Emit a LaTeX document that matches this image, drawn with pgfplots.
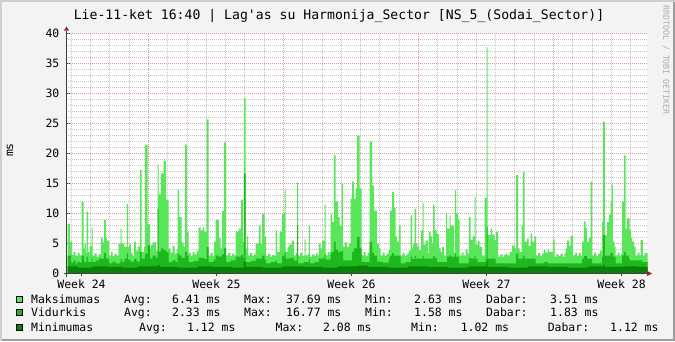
\documentclass[border=0pt]{standalone}
\usepackage{pgfplots}
\pgfplotsset{compat=1.18}
\usepackage{fontspec}
\setmainfont{DejaVu Sans Mono}
\definecolor{bgc}{HTML}{F3F3F3}
\definecolor{shadea}{HTML}{CFCFCF}
\definecolor{shadeb}{HTML}{9E9E9E}
\definecolor{maxc}{HTML}{5AE65A}
\definecolor{avgc}{HTML}{1CB81C}
\definecolor{minc}{HTML}{0B800B}
\definecolor{gridc}{HTML}{C4C4C4}
\definecolor{mgridc}{HTML}{DE9A9A}
\definecolor{axisc}{HTML}{404040}
\definecolor{arrowc}{HTML}{9A2424}
\definecolor{tagc}{HTML}{ABABAB}
\newcommand{\lf}{\fontsize{11.5}{13}\selectfont}
\newcommand{\lgd}[3]{\node[anchor=base west, inner sep=0pt, font=\lf] at (#1,#2) {#3};}
\tikzset{mg/.style={mgridc, dash pattern=on 1bp off 1bp, line width=1bp},
         ng/.style={gridc, dash pattern=on 1bp off 1bp, line width=1bp}}
\begin{document}
\begin{tikzpicture}[x=1bp,y=1bp]
\useasboundingbox (0,0) rectangle (675,341);
\fill[bgc] (0,0) rectangle (675,341);
\fill[shadea] (0,0) rectangle (2,341);
\fill[shadea] (0,339) rectangle (675,341);
\fill[shadeb] (673,0) rectangle (675,339);
\fill[shadeb] (2,0) rectangle (675,2);
\fill[white] (67,67.5) rectangle (647,308);
\begin{axis}[
  at={(67.5bp,67.5bp)}, anchor=south west, scale only axis,
  width=580bp, height=240bp,
  xmin=0, xmax=580, ymin=0, ymax=40,
  axis line style={draw=none},
  tick pos=left,
  ytick={0,5,...,40},
  xtick={14,149,284,419,554},
  xticklabels={Week 24,Week 25,Week 26,Week 27,Week 28},
  major tick length=4bp, tick align=center,
  tick style={axisc, line width=1bp},
  ticklabel style={font=\lf},
  /pgf/number format/assume math mode=true,
  yticklabel style={anchor=east, inner sep=0pt, xshift=-6bp},
  xticklabel style={anchor=base, inner sep=0pt, yshift=-12.5bp},
]
% grid (drawn beneath the data)
\pgfplotsinvokeforeach{1,2,3,4,6,7,8,9,11,12,13,14,16,17,18,19,21,22,23,24,26,27,28,29,31,32,33,34,36,37,38,39}{
  \draw[ng] (axis cs:0.5,#1) -- (axis cs:580,#1);}
\pgfplotsinvokeforeach{4,23,42,62,100,120,139,158,177,197,235,255,274,293,312,332,370,390,409,428,447,467,505,525,544,563}{
  \draw[ng] (axis cs:#1,0.5) -- (axis cs:#1,40);}
\pgfplotsinvokeforeach{5,10,15,20,25,30,35,40}{
  \draw[mg] (axis cs:0.5,#1) -- (axis cs:580,#1);}
\pgfplotsinvokeforeach{81,216,351,486}{
  \draw[mg] (axis cs:#1,0.5) -- (axis cs:#1,40);}
\addplot[draw=none, fill=maxc, const plot] coordinates {
(0,8.3)(2.3,5.3)(4.3,3.1)(6,3.6)(8,2.9)(10,3.4)(12,3.0)(14,12.0)(16,4.2)(17,5.0)(18.3,3.5)(19,10.3)(20.7,3.6)(22,4.6)(24,7.7)(25,3.0)(27,3.4)(29,2.8)(31,3.2)(33.3,6.0)(35,5.2)(36.7,8.9)(38.3,6.0)(39.3,5.5)(41.7,3.0)(43.5,3.6)(45,2.9)(47,3.3)(49,3.0)(51,5.0)(53,7.5)(54,5.0)(56.7,4.4)(59.3,11.6)(60.7,4.4)(61.7,4.8)(63.3,3.5)(65,3.0)(66.7,5.3)(68.3,3.8)(70,4.5)(72.3,17.3)(74,3.6)(76.7,4.5)(77.7,21.5)(80,8.2)(82.3,4.2)(83.3,4.8)(85.7,5.2)(88.3,3.8)(90,18.2)(91,13.2)(93.3,16.7)(96,18.8)(98.3,12.3)(101,4.2)(103,3.5)(105,4.6)(107,3.3)(109,4.0)(110,14.0)(111.7,9.4)(114,5.2)(116,4.4)(117.7,21.5)(119.3,7.0)(121,3.5)(123,3.0)(125,3.6)(127,3.2)(129,3.8)(131,7.7)(133,7.2)(135,7.7)(136.7,7.0)(139,25.7)(141,3.0)(143,3.5)(145,2.9)(146.3,5.3)(148,8.9)(151.3,6.0)(153,4.2)(154.7,10.4)(156.3,21.8)(158.7,3.0)(160.5,3.4)(162.5,2.9)(164.5,3.3)(166.5,3.0)(168,7.0)(171.3,7.5)(173.7,12.3)(175.3,5.3)(176.3,29.2)(178,4.2)(179.7,6.2)(180.7,3.0)(182.5,3.4)(184.5,2.9)(186.5,3.2)(188,5.0)(191.3,8.0)(193,5.0)(194.7,9.9)(197,6.2)(198.7,2.9)(200.5,3.3)(202.5,2.8)(204.5,3.1)(206.5,2.9)(208,7.2)(209.7,3.6)(212,7.0)(214.7,10.0)(217,13.9)(218,3.6)(220,4.4)(221.3,4.8)(224,5.5)(226.3,3.0)(228,3.4)(229.7,15.2)(230.7,3.0)(232.5,3.5)(234.5,2.9)(237,5.7)(238,3.0)(240,3.3)(241.3,8.0)(242.3,2.8)(244.5,3.2)(246.5,2.9)(248.5,3.4)(250,3.0)(251.3,5.0)(253,4.2)(254.7,5.5)(257,11.5)(258,3.0)(260,3.6)(262,3.2)(263,9.9)(264.7,8.6)(266.3,19.7)(268,12.0)(270.3,9.4)(272,8.0)(274,15.0)(275.7,4.5)(277.5,5.2)(279.7,4.4)(281.5,5.0)(283,12.5)(284.7,15.3)(286.3,12.4)(288,14.2)(289.7,23.0)(292,14.2)(294,3.0)(296,3.6)(298,2.9)(300,3.4)(302,22.0)(304.7,14.7)(306.3,10.5)(309.7,5.0)(311.5,4.2)(313,3.0)(315,3.5)(317,2.9)(319,3.3)(321,4.0)(322.3,10.5)(324.7,13.6)(326.3,11.0)(328,6.2)(329.7,5.3)(331.3,8.0)(333,3.0)(335,3.5)(337,2.9)(339,3.3)(341,3.8)(343,9.7)(344.7,4.2)(345.7,5.0)(347,10.8)(348.7,5.0)(350,4.4)(351.3,3.9)(353.7,7.2)(355,11.8)(356,4.8)(358,5.5)(360.3,3.5)(361.3,7.0)(363,6.2)(364.5,5.0)(365.7,11.4)(367,7.2)(369,6.6)(371.3,4.2)(373,3.6)(374.5,4.4)(376.3,3.0)(378.7,10.0)(379.7,7.5)(382,9.7)(383,8.0)(386.3,3.5)(387.3,13.9)(388.7,10.0)(390.5,9.0)(392,3.0)(394,3.5)(396,2.9)(398,4.0)(400,3.3)(401.3,9.4)(403,5.6)(405,6.2)(407,12.8)(408,4.8)(410,5.4)(412,4.5)(414.7,3.0)(417,12.6)(419,37.7)(420,6.4)(423,7.5)(424.7,6.5)(427,5.6)(428.7,7.0)(430.7,2.8)(432.5,3.2)(434.5,2.8)(436.5,3.1)(438,3.3)(440,3.0)(442,3.6)(444.7,4.7)(447,4.2)(448.7,16.4)(450.7,4.2)(452,3.6)(454,8.0)(455.3,16.9)(457,5.3)(459.7,5.8)(461,4.6)(463,6.7)(464.7,5.3)(467,6.2)(468.7,3.0)(470.5,3.4)(472.5,2.9)(474.5,3.3)(476.3,3.9)(478,3.5)(480,4.0)(481.5,3.6)(485.3,5.7)(487,2.8)(489,3.2)(491,2.9)(493,3.3)(495,2.8)(497,3.4)(498,4.2)(499.7,5.5)(501.5,4.6)(503,6.3)(505.7,3.0)(507.5,3.4)(509.5,2.9)(511.5,3.5)(513,3.0)(514.7,5.3)(516.3,8.7)(518,7.6)(519.7,5.3)(521.5,6.0)(523,15.3)(524.7,3.0)(526.5,3.5)(528.5,2.9)(530.5,3.3)(532.5,3.8)(534.7,8.6)(535.7,25.3)(537.3,6.4)(539.7,8.6)(541.5,9.8)(543,12.0)(544,14.8)(545.3,5.3)(547,4.4)(548,3.0)(550,3.5)(552,2.9)(553.5,3.3)(554.7,12.0)(556.3,19.7)(558,7.5)(559.7,9.2)(562,7.3)(563.5,6.0)(564.7,5.3)(566.5,4.5)(568,3.0)(570,3.5)(572,3.0)(573,5.6)(575.3,3.0)(577,3.4)(580,3.4)
} \closedcycle;
\addplot[draw=none, fill=avgc, const plot] coordinates {
(0,3.0)(3.7,1.8)(6,2.2)(8,1.7)(10,2.0)(12,1.8)(14,3.0)(16.7,1.9)(19,2.8)(20.7,1.9)(24,2.6)(25,1.9)(28,2.2)(31.7,2.5)(36.7,3.4)(38.3,2.5)(41.7,1.7)(45,2.0)(48,1.7)(53,2.4)(54,2.0)(57,2.5)(59.3,3.4)(60.7,2.3)(63,2.0)(66.7,2.4)(69,2.0)(72.3,3.6)(74,2.5)(77.7,3.3)(80,4.7)(82.3,2.5)(85,3.0)(88.3,2.6)(90,10.8)(91,3.6)(93.3,4.2)(96,3.9)(98.3,3.6)(101,1.9)(105,2.2)(108,1.9)(110,3.3)(111.7,3.0)(114,2.6)(117.7,3.6)(119.3,3.0)(121,1.9)(126,2.1)(131,2.6)(136.7,2.4)(139,4.4)(141,1.9)(146.3,2.3)(148,3.0)(151.3,2.8)(154.7,3.2)(156.3,4.2)(158.7,1.9)(163,2.2)(168,2.8)(173.7,3.1)(175.3,2.6)(176.3,16.7)(178,1.9)(183,2.1)(188,2.5)(194.7,3.0)(197,2.3)(198.7,1.7)(203,1.9)(208,2.2)(209.7,1.7)(214.7,3.0)(217,3.6)(218,2.5)(222,2.6)(226.3,2.2)(229.7,8.0)(230.7,1.7)(236,1.9)(241.3,2.4)(242.3,1.7)(247,1.9)(251.3,2.5)(257,3.3)(258,2.3)(263,3.6)(266.3,5.3)(268,4.0)(270.3,3.6)(274,3.8)(275.7,2.2)(284.7,3.6)(286.3,4.2)(289.7,6.1)(292,4.2)(294,1.9)(302,5.3)(304.7,3.5)(306.3,3.0)(309.7,2.0)(315,1.8)(321.3,2.5)(322.3,3.0)(324.7,3.4)(326.3,3.0)(333,1.7)(338,1.9)(343,2.8)(344.7,2.4)(347,2.9)(348.7,2.5)(355,2.9)(356,2.5)(365.7,2.9)(367,2.6)(369.7,1.9)(379.7,2.8)(382,3.1)(383,2.8)(387.3,3.3)(388.7,2.8)(391.3,1.7)(401.3,2.6)(403,2.5)(407,2.9)(408,2.4)(410,1.9)(418,2.5)(419,7.8)(420,2.5)(428,1.7)(448.7,3.3)(450.7,2.5)(455.3,3.0)(457,2.5)(468,1.7)(476,1.9)(480,1.7)(514.7,2.5)(516.3,2.9)(519.7,2.5)(524.7,1.7)(534.7,2.8)(535.7,6.4)(537.3,3.0)(543,3.4)(545.3,2.8)(548,1.7)(554.7,3.0)(556.3,3.6)(558,3.0)(561,2.6)(562,2.2)(574.7,1.9)(580,1.9)
} \closedcycle;
\addplot[draw=none, fill=minc, const plot] coordinates {
(0,1.2)(10,1.0)(25,1.2)(40,1.1)(55,1.0)(70,1.2)(90,1.4)(92,1.1)(110,1.0)(130,1.2)(145,1.1)(165,1.0)(176.3,2.0)(178,1.1)(195,1.0)(215,1.2)(235,1.1)(255,1.0)(270,1.2)(290,1.3)(300,1.1)(320,1.0)(340,1.2)(360,1.1)(380,1.0)(400,1.2)(419,2.08)(420,1.1)(440,1.0)(460,1.2)(480,1.1)(500,1.0)(520,1.2)(536,1.5)(537.3,1.1)(555,1.2)(570,1.1)(580,1.1)
} \closedcycle;
\end{axis}
% axes and arrows
\draw[axisc, line width=1bp] (66.5,64.5) -- (66.5,310.5);
\draw[axisc, line width=1bp] (64,67.5) -- (647,67.5);
\fill[arrowc] (64,310.5) -- (69,310.5) -- (66.5,314.5) -- cycle;
\fill[arrowc] (647,70) -- (647,65) -- (652,67.5) -- cycle;
% title
\node[anchor=base, inner sep=0pt, font=\fontsize{13.2}{15}\selectfont] at (339,322) {Lie-11-ket 16:40 | Lag\textquotesingle as su Harmonija\_Sector [NS\_5\_(Sodai\_Sector)]};
% y label
\node[rotate=90, font=\lf, inner sep=0pt] at (10,191) {ms};
% rrdtool tag
\node[rotate=-90, font=\fontsize{8.3}{9}\selectfont, text=tagc, inner sep=0pt] at (666,281) {RRDTOOL / TOBI OETIKER};
% legend squares
\filldraw[fill=maxc, draw=black, line width=1bp] (16.5,38.5) rectangle (22.5,44.5);
\filldraw[fill=avgc, draw=black, line width=1bp] (16.5,25.5) rectangle (22.5,31.5);
\filldraw[fill=minc, draw=black, line width=1bp] (16.5,10.5) rectangle (22.5,16.5);
% legend row 1
\lgd{31}{37.7}{Maksimumas}
\lgd{124}{37.7}{Avg:}
\lgd{172}{37.7}{6.41 ms}
\lgd{244}{37.7}{Max:}
\lgd{286}{37.7}{37.69 ms}
\lgd{365}{37.7}{Min:}
\lgd{414}{37.7}{2.63 ms}
\lgd{486}{37.7}{Dabar:}
\lgd{550}{37.7}{3.51 ms}
% row 2
\lgd{31}{24.3}{Vidurkis}
\lgd{124}{24.3}{Avg:}
\lgd{172}{24.3}{2.33 ms}
\lgd{244}{24.3}{Max:}
\lgd{286}{24.3}{16.77 ms}
\lgd{365}{24.3}{Min:}
\lgd{414}{24.3}{1.58 ms}
\lgd{486}{24.3}{Dabar:}
\lgd{550}{24.3}{1.83 ms}
% row 3
\lgd{31}{10}{Minimumas}
\lgd{139}{10}{Avg:}
\lgd{187}{10}{1.12 ms}
\lgd{275.5}{10}{Max:}
\lgd{323}{10}{2.08 ms}
\lgd{411}{10}{Min:}
\lgd{460.6}{10}{1.02 ms}
\lgd{547.6}{10}{Dabar:}
\lgd{610}{10}{1.12 ms}
\end{tikzpicture}
\end{document}
